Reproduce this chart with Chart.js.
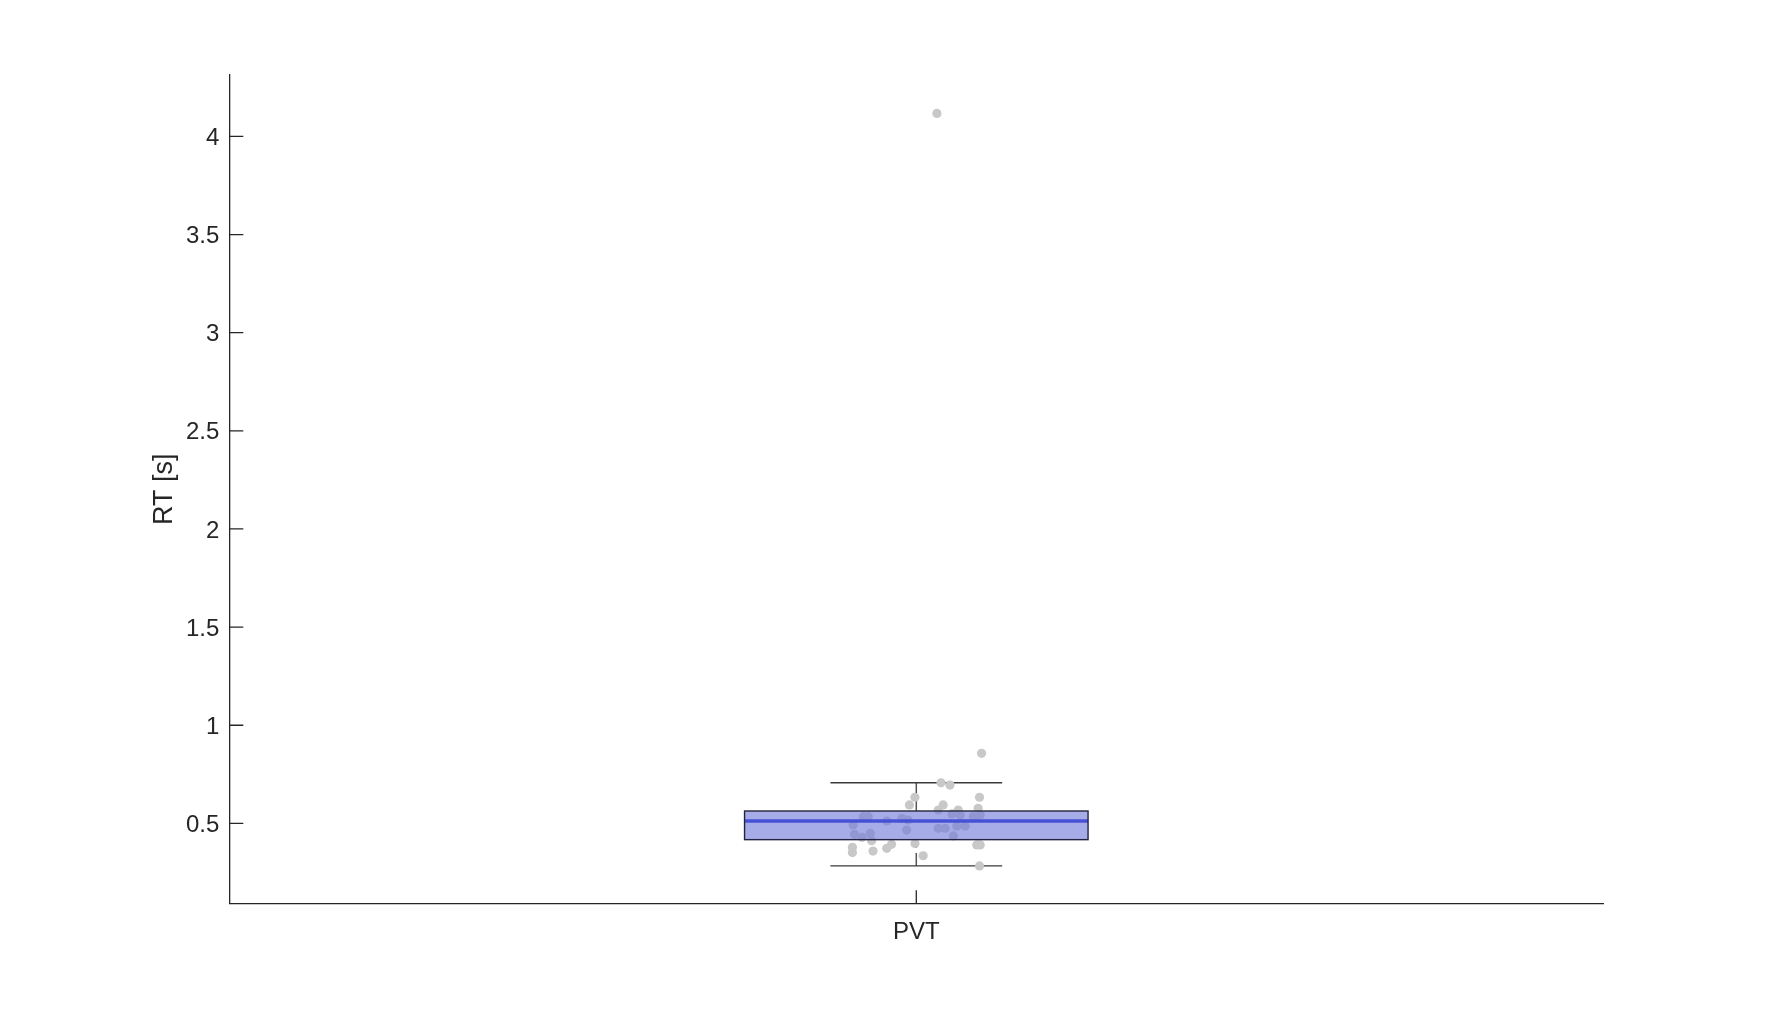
<!DOCTYPE html>
<html><head><meta charset="utf-8">
<script src="https://cdn.jsdelivr.net/npm/chart.js@4.4.0/dist/chart.umd.min.js"></script>
<style>html,body{margin:0;padding:0;background:#fff;}</style>
</head><body>
<canvas id="c" width="1772" height="1016"></canvas>
<script>
// ---- data ----
const categories = ['PVT'];
const yTickValues = [0.5, 1, 1.5, 2, 2.5, 3, 3.5, 4];
const rtValues = [4.117, 0.857, 0.707, 0.695, 0.633, 0.594, 0.633, 0.594, 0.568, 0.568, 0.577, 0.534, 0.534, 0.492, 0.512, 0.526, 0.517, 0.466, 0.548, 0.543, 0.534, 0.543, 0.487, 0.487, 0.475, 0.475, 0.436, 0.444, 0.429, 0.449, 0.412, 0.393, 0.373, 0.398, 0.378, 0.351, 0.359, 0.335, 0.390, 0.390, 0.283];
const jitterOffsets = [0.030, 0.095, 0.036, 0.049, -0.002, -0.010, 0.092, 0.039, 0.032, 0.061, 0.090, -0.077, -0.070, -0.092, -0.043, -0.021, -0.012, -0.014, 0.052, 0.064, 0.083, 0.093, 0.059, 0.071, 0.032, 0.042, 0.054, -0.090, -0.079, -0.067, -0.065, -0.036, -0.043, -0.002, -0.093, -0.093, -0.063, 0.010, 0.088, 0.093, 0.092];
const boxQ1 = [0.417];
const boxMedian = [0.512];
const boxQ3 = [0.563];
const whiskerLow = [0.283];
const whiskerHigh = [0.707];

// ---- styles ----
const AX = '#262626';
const FONT = "'Liberation Sans', Arial, Helvetica, sans-serif";
const BOX_W = 0.5, CAP_W = 0.25;

const points = rtValues.map((v, i) => ({x: 1 + jitterOffsets[i], y: v}));

function geom(chart, i) {
  const xs = chart.scales.x, ys = chart.scales.y;
  const center = i + 1;
  return {
    cx: xs.getPixelForValue(center),
    xl: xs.getPixelForValue(center - BOX_W / 2), xr: xs.getPixelForValue(center + BOX_W / 2),
    cl: xs.getPixelForValue(center - CAP_W / 2), cr: xs.getPixelForValue(center + CAP_W / 2),
    yq1: ys.getPixelForValue(boxQ1[i]), yq3: ys.getPixelForValue(boxQ3[i]),
    ymed: ys.getPixelForValue(boxMedian[i]),
    ylo: ys.getPixelForValue(whiskerLow[i]), yhi: ys.getPixelForValue(whiskerHigh[i])
  };
}

const boxPlugin = {
  id: 'boxPlot',
  beforeDatasetsDraw(chart) {
    const ctx = chart.ctx;
    categories.forEach((c, i) => {
      const g = geom(chart, i);
      ctx.save();
      ctx.strokeStyle = '#555555';
      ctx.lineWidth = 1.5;
      ctx.setLineDash([13, 5]);
      ctx.beginPath();
      ctx.moveTo(g.cx, g.yhi); ctx.lineTo(g.cx, g.yq3);
      ctx.stroke();
      ctx.beginPath();
      ctx.moveTo(g.cx, g.ylo); ctx.lineTo(g.cx, g.yq1);
      ctx.stroke();
      ctx.setLineDash([]);
      ctx.strokeStyle = '#3a3a3a';
      ctx.lineWidth = 1.3;
      ctx.beginPath();
      ctx.moveTo(g.cl, g.yhi); ctx.lineTo(g.cr, g.yhi);
      ctx.moveTo(g.cl, g.ylo); ctx.lineTo(g.cr, g.ylo);
      ctx.stroke();
      ctx.restore();
    });
  },
  afterDatasetsDraw(chart) {
    const ctx = chart.ctx;
    categories.forEach((c, i) => {
      const g = geom(chart, i);
      ctx.save();
      ctx.fillStyle = 'rgba(112,121,218,0.62)';
      ctx.fillRect(g.xl, g.yq3, g.xr - g.xl, g.yq1 - g.yq3);
      ctx.strokeStyle = 'rgba(62,72,212,0.9)';
      ctx.lineWidth = 3.3;
      ctx.beginPath();
      ctx.moveTo(g.xl, g.ymed); ctx.lineTo(g.xr, g.ymed);
      ctx.stroke();
      ctx.strokeStyle = '#24243c';
      ctx.lineWidth = 1.4;
      ctx.strokeRect(g.xl, g.yq3, g.xr - g.xl, g.yq1 - g.yq3);
      ctx.restore();
    });
  },
  afterDraw(chart) {
    const xs = chart.scales.x, ys = chart.scales.y, ctx = chart.ctx;
    const a = chart.chartArea;
    ctx.save();
    ctx.strokeStyle = AX;
    ctx.lineWidth = 1.3;
    ctx.beginPath();
    ys.ticks.forEach(t => {
      const p = ys.getPixelForValue(t.value);
      ctx.moveTo(a.left, p); ctx.lineTo(a.left + 14, p);
    });
    xs.ticks.forEach(t => {
      const p = xs.getPixelForValue(t.value);
      ctx.moveTo(p, a.bottom); ctx.lineTo(p, a.bottom - 13);
    });
    ctx.stroke();
    ctx.restore();
  }
};

new Chart(document.getElementById('c'), {
  type: 'scatter',
  data: {
    datasets: [{
      data: points,
      backgroundColor: 'rgb(200,200,200)',
      borderWidth: 0,
      pointRadius: 4.6,
      pointHoverRadius: 4.6
    }]
  },
  options: {
    responsive: false,
    animation: false,
    devicePixelRatio: 1,
    layout: {padding: {left: 148.8, right: 168.7, top: 75, bottom: 0}},
    plugins: {legend: {display: false}, tooltip: {enabled: false}},
    scales: {
      x: {
        type: 'linear', min: 0, max: 2,
        afterBuildTicks: s => { s.ticks = categories.map((c, i) => ({value: i + 1})); },
        afterFit: s => { s.height = 112.7; },
        grid: {display: false, drawTicks: false},
        border: {display: true, color: AX, width: 1.3},
        ticks: {
          padding: 15, color: AX, font: {family: FONT, size: 24},
          callback: v => categories[Math.round(v) - 1] ?? ''
        }
      },
      y: {
        type: 'linear', min: 0.0927, max: 4.313,
        afterBuildTicks: s => { s.ticks = yTickValues.map(v => ({value: v})); },
        afterFit: s => { s.width = 80.5; },
        grid: {display: false, drawTicks: false},
        border: {display: true, color: AX, width: 1.3},
        ticks: {
          padding: 10, labelOffset: 2, color: AX, font: {family: FONT, size: 24},
          callback: v => String(v)
        },
        title: {
          display: true, text: 'RT [s]', color: AX, padding: 0,
          font: {family: FONT, size: 27}
        }
      }
    }
  },
  plugins: [boxPlugin]
});
</script>
</body></html>
